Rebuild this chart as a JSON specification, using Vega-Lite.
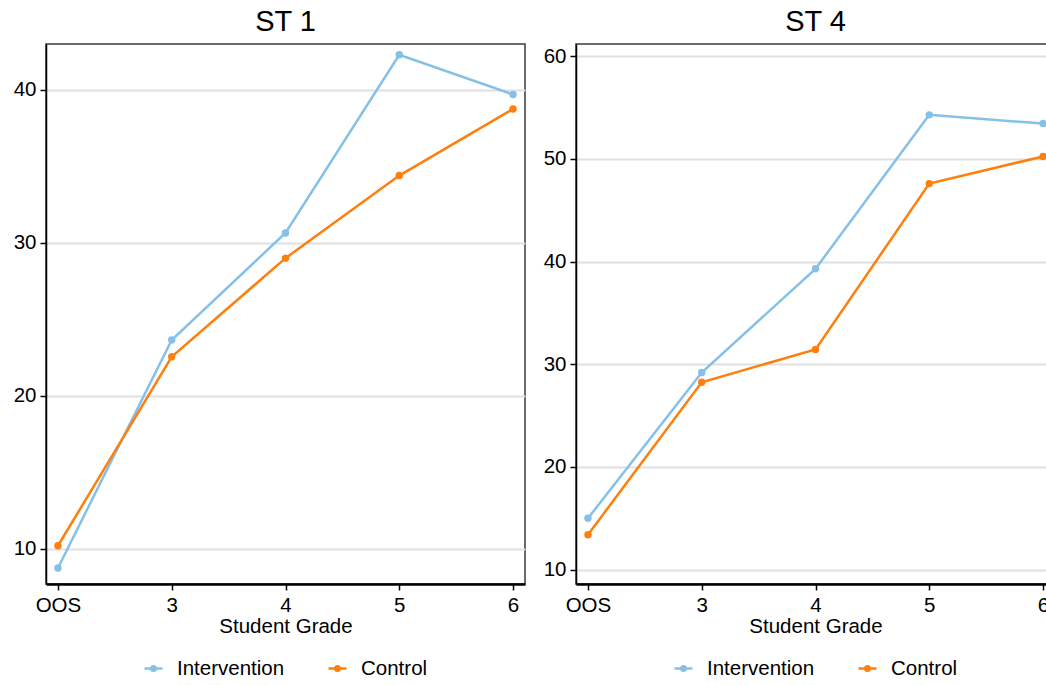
{
  "$schema": "https://vega.github.io/schema/vega-lite/v6.json",
  "padding": {"left": 12, "top": 7, "right": 0, "bottom": 0},
  "datasets": {
    "st1": [
      {"group": "Intervention", "grade": "OOS", "value": 8.75},
      {"group": "Intervention", "grade": "3", "value": 23.65},
      {"group": "Intervention", "grade": "4", "value": 30.65},
      {"group": "Intervention", "grade": "5", "value": 42.3},
      {"group": "Intervention", "grade": "6", "value": 39.7},
      {"group": "Control", "grade": "OOS", "value": 10.2},
      {"group": "Control", "grade": "3", "value": 22.55},
      {"group": "Control", "grade": "4", "value": 29.0},
      {"group": "Control", "grade": "5", "value": 34.4},
      {"group": "Control", "grade": "6", "value": 38.75}
    ],
    "st4": [
      {"group": "Intervention", "grade": "OOS", "value": 15.0},
      {"group": "Intervention", "grade": "3", "value": 29.2},
      {"group": "Intervention", "grade": "4", "value": 39.3},
      {"group": "Intervention", "grade": "5", "value": 54.3},
      {"group": "Intervention", "grade": "6", "value": 53.45},
      {"group": "Control", "grade": "OOS", "value": 13.4},
      {"group": "Control", "grade": "3", "value": 28.25},
      {"group": "Control", "grade": "4", "value": 31.45},
      {"group": "Control", "grade": "5", "value": 47.6},
      {"group": "Control", "grade": "6", "value": 50.25}
    ]
  },
  "hconcat": [
    {
      "width": 479,
      "height": 540,
      "title": "ST 1",
      "data": {"name": "st1"},
      "mark": {"type": "line", "strokeWidth": 2.5, "point": {"filled": true, "size": 55}},
      "encoding": {
        "x": {"field": "grade", "type": "ordinal", "sort": ["OOS", "3", "4", "5", "6"], "scale": {"type": "point", "padding": 0.105}, "axis": {"title": "Student Grade", "labelAngle": 0}},
        "y": {"field": "value", "type": "quantitative", "scale": {"domain": [7.7, 43.0], "nice": false, "zero": false}, "axis": {"values": [10, 20, 30, 40], "title": null}},
        "color": {"field": "group", "type": "nominal", "sort": ["Intervention", "Control"], "scale": {"domain": ["Intervention", "Control"], "range": ["#85c0e9", "#ff7f0e"]},
          "legend": {"title": null, "orient": "none", "legendX": 97, "legendY": 614, "direction": "horizontal", "symbolType": "M-1,0H1M-0.25,0A0.25,0.25 0 1,0 0.25,0A0.25,0.25 0 1,0 -0.25,0M-0.12,0A0.12,0.12 0 1,0 0.12,0A0.12,0.12 0 1,0 -0.12,0", "symbolSize": 324, "symbolStrokeWidth": 2.5, "labelFontSize": 20.5, "labelOffset": 13, "columnPadding": 38}}
      }
    },
    {
      "width": 479,
      "height": 540,
      "title": "ST 4",
      "data": {"name": "st4"},
      "mark": {"type": "line", "strokeWidth": 2.5, "point": {"filled": true, "size": 55}},
      "encoding": {
        "x": {"field": "grade", "type": "ordinal", "sort": ["OOS", "3", "4", "5", "6"], "scale": {"type": "point", "padding": 0.105}, "axis": {"title": "Student Grade", "labelAngle": 0}},
        "y": {"field": "value", "type": "quantitative", "scale": {"domain": [8.6, 61.2], "nice": false, "zero": false}, "axis": {"values": [10, 20, 30, 40, 50, 60], "title": null}},
        "color": {"field": "group", "type": "nominal", "sort": ["Intervention", "Control"], "scale": {"domain": ["Intervention", "Control"], "range": ["#85c0e9", "#ff7f0e"]},
          "legend": {"title": null, "orient": "none", "legendX": 97, "legendY": 614, "direction": "horizontal", "symbolType": "M-1,0H1M-0.25,0A0.25,0.25 0 1,0 0.25,0A0.25,0.25 0 1,0 -0.25,0M-0.12,0A0.12,0.12 0 1,0 0.12,0A0.12,0.12 0 1,0 -0.12,0", "symbolSize": 324, "symbolStrokeWidth": 2.5, "labelFontSize": 20.5, "labelOffset": 13, "columnPadding": 38}}
      }
    }
  ],
  "spacing": 16,
  "resolve": {"scale": {"y": "independent", "color": "independent"}, "legend": {"color": "independent"}},
  "config": {
    "font": "Liberation Sans",
    "view": {"stroke": "#3a3a3a", "strokeWidth": 1.5},
    "axis": {"labelFontSize": 20.5, "titleFontSize": 20.5, "titleFontWeight": "normal", "labelColor": "black", "titleColor": "black", "domainColor": "black", "tickColor": "black", "tickSize": 6, "tickWidth": 1.5},
    "axisY": {"grid": true, "gridColor": "#e0e0e0", "gridWidth": 2, "domainWidth": 1.5, "labelPadding": 4},
    "axisX": {"grid": false, "domainWidth": 2.5, "labelPadding": 5, "titlePadding": 1},
    "title": {"fontSize": 29, "fontWeight": "normal", "color": "black", "offset": 7}
  }
}
